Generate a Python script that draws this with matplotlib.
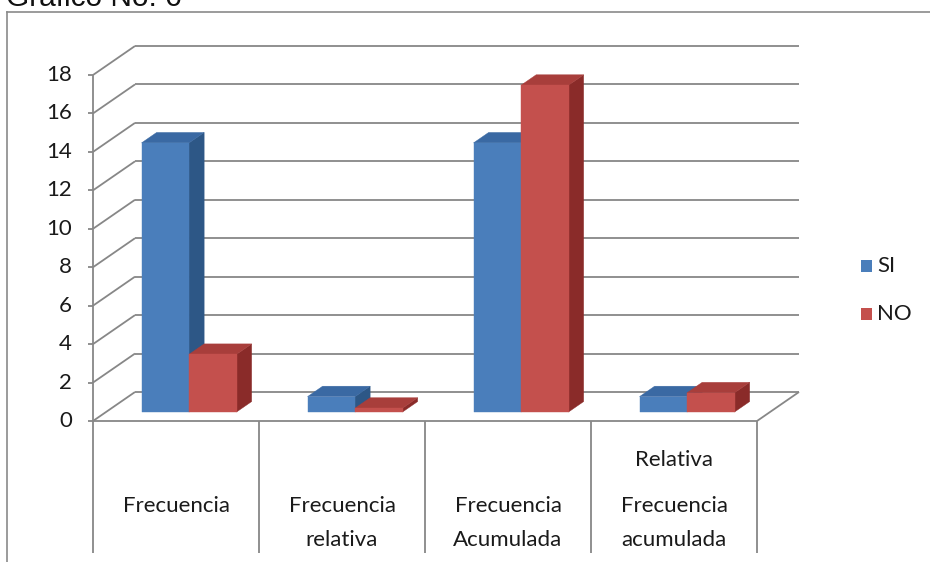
import matplotlib
matplotlib.use("Agg")
import matplotlib.pyplot as plt
from matplotlib.patches import Polygon, Rectangle
from matplotlib.lines import Line2D

# ---- data ----
categories = ["Frecuencia", "Frecuencia\nrelativa", "Frecuencia\nAcumulada", "Frecuencia\nacumulada"]
category_headers = ["", "", "", "Relativa"]
series_names = ["SI", "NO"]
si_values = [14, 0.8, 14, 0.8]
no_values = [3, 0.2, 17, 1.0]
y_ticks = [0, 2, 4, 6, 8, 10, 12, 14, 16, 18]
title = "Grafico No. 6"

plt.rcParams["font.family"] = ["Lato", "DejaVu Sans"]

W, H = 930, 562
fig = plt.figure(figsize=(W / 100, H / 100), dpi=100)

# plot area (front plane) in pixels
PX_L, PX_R = 93, 757
PY_0, PY_TOP = 421, 75
ax = fig.add_axes([PX_L / W, 1 - PY_0 / H, (PX_R - PX_L) / W, (PY_0 - PY_TOP) / H])
n = len(categories)
ymax = y_ticks[-1]
ax.set_xlim(0, n)
ax.set_ylim(0, ymax)
ax.axis("off")

upx = (PX_R - PX_L) / n          # pixels per category
upy = (PY_0 - PY_TOP) / ymax     # pixels per value unit
DX = 42 / upx                    # depth offset of back wall (x, data units)
DY = 29 / upy                    # depth offset of back wall (y, data units)

grid_c = "#878787"
lw = 1.3


def line(xs, ys, **kw):
    ax.add_line(Line2D(xs, ys, color=kw.pop("color", grid_c), lw=kw.pop("lw", lw),
                       clip_on=False, solid_capstyle="butt", **kw))


# back wall gridlines and left wall diagonals
for v in y_ticks:
    line([DX, n + DX], [v + DY, v + DY])
    line([0, DX], [v, v + DY])
    line([-5 / upx, 0], [v, v])
    ax.text(-21 / upx, v, str(v), ha="right", va="center", fontsize=16,
            color="#1a1a1a", clip_on=False)

# vertical axis line
line([0, 0], [0, ymax])

# floor
line([0, n], [0, 0])
line([n, n + DX], [0, DY])

# category separators and labels
sep_bottom = (PY_0 - 553) / upy
for i in range(n + 1):
    line([i, i], [0, sep_bottom])
for i, (lab, head) in enumerate(zip(categories, category_headers)):
    ax.text(i + 0.5, (PY_0 - 496) / upy, lab, ha="center", va="top", fontsize=16,
            color="#1a1a1a", linespacing=1.85, clip_on=False)
    if head:
        ax.text(i + 0.5, (PY_0 - 460) / upy, head, ha="center", va="center",
                fontsize=16, color="#1a1a1a", clip_on=False)

# 3D bars
bar_w = 47.5 / upx
f0, f1 = 0.31, 0.67
ox0, oy0 = f0 * DX, f0 * DY
ox1, oy1 = f1 * DX, f1 * DY

styles = [
    dict(front="#4A7EBB", top="#3A69A3", side="#2D5786"),
    dict(front="#C4504D", top="#A83E3B", side="#8A2B29"),
]

for i in range(n):
    for k, vals in enumerate([si_values, no_values]):
        v = vals[i]
        st = styles[k]
        x0 = i + 0.5 - bar_w + k * bar_w
        x1 = x0 + bar_w
        side = [(x1 + ox0, oy0), (x1 + ox1, oy1), (x1 + ox1, v + oy1), (x1 + ox0, v + oy0)]
        top = [(x0 + ox0, v + oy0), (x1 + ox0, v + oy0), (x1 + ox1, v + oy1), (x0 + ox1, v + oy1)]
        front = [(x0 + ox0, oy0), (x1 + ox0, oy0), (x1 + ox0, v + oy0), (x0 + ox0, v + oy0)]
        for pts, c in ((side, st["side"]), (top, st["top"]), (front, st["front"])):
            ax.add_patch(Polygon(pts, closed=True, facecolor=c, edgecolor=c, lw=0.3,
                                 clip_on=False, zorder=3))

# legend
for k, name in enumerate(series_names):
    cy = 266 + k * 48
    fig.patches.append(Rectangle((861 / W, 1 - (cy + 6) / H), 11 / W, 12 / H,
                                 transform=fig.transFigure, facecolor=styles[k]["front"],
                                 edgecolor="none"))
    fig.text(877 / W, 1 - cy / H, name, ha="left", va="center", fontsize=16, color="#1a1a1a")

# chart border
fig.add_artist(Line2D([7 / W, 7 / W], [0, 1 - 12 / H], transform=fig.transFigure,
                      color="#8a8a8a", lw=1.2))
fig.add_artist(Line2D([7 / W, 1], [1 - 12 / H, 1 - 12 / H], transform=fig.transFigure,
                      color="#8a8a8a", lw=1.2))

# title
fig.text(6 / W, 1 - 6 / H, title, ha="left", va="baseline", fontsize=21.5,
         family=["Liberation Sans", "DejaVu Sans"], color="#111111")

fig.savefig("out.png", dpi=100)
